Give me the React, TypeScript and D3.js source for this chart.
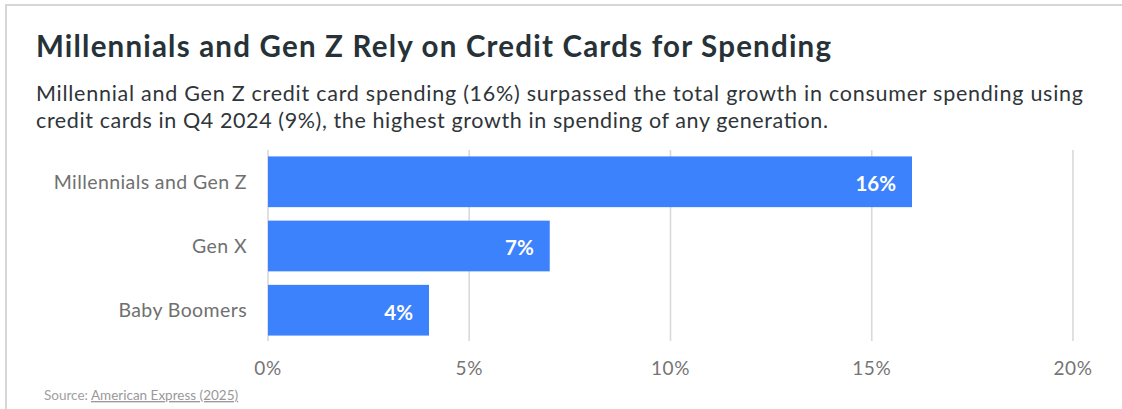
import React from "react";
import * as d3 from "d3";

const categories = ["Millennials and Gen Z", "Gen X", "Baby Boomers"];
const values = [16, 7, 4];
const ticks = [0, 5, 10, 15, 20];

const title = "Millennials and Gen Z Rely on Credit Cards for Spending";
const subtitleLines = [
  "Millennial and Gen Z credit card spending (16%) surpassed the total growth in consumer spending using",
  "credit cards in Q4 2024 (9%), the highest growth in spending of any generation.",
];
const subtitleWidths = [1047, 792];

const W = 1122;
const H = 409;
const FONT = "Lato, 'Open Sans', sans-serif";

export default function App() {
  const x = d3.scaleLinear().domain([0, 20]).range([268, 1073]);
  const y = d3
    .scaleBand<string>()
    .domain(categories)
    .range([150, 342])
    .paddingInner(0.21)
    .paddingOuter(0.1);

  return (
    <svg
      width={W}
      height={H}
      style={{ position: "absolute", left: 0, top: 0, background: "#fff" }}
      fontFamily={FONT}
    >
      <rect x={6} y={5} width={W} height={H} fill="#fff" stroke="#d6d6d6" strokeWidth={2} />
      <text
        x={36}
        y={57}
        fontSize={29.5}
        fontWeight={700}
        fill="#263238"
        textLength={795}
        lengthAdjust="spacing"
      >
        {title}
      </text>
      {subtitleLines.map((l, i) => (
        <text
          key={i}
          x={36}
          y={100.5 + i * 27.5}
          fontSize={21.5}
          fill="#2f3539"
          textLength={subtitleWidths[i]}
          lengthAdjust="spacing"
        >
          {l}
        </text>
      ))}
      {ticks.map((t) => (
        <g key={t}>
          <line x1={x(t)} x2={x(t)} y1={150} y2={341} stroke="#d9d9d9" strokeWidth={1.6} />
          <text
            x={x(t)}
            y={375}
            textAnchor="middle"
            fontSize={19}
            letterSpacing={0.6}
            fill="#757575"
          >
            {t}%
          </text>
        </g>
      ))}
      {categories.map((c, i) => (
        <g key={c}>
          <rect
            x={x(0)}
            y={y(c)}
            width={x(values[i]) - x(0)}
            height={y.bandwidth()}
            fill="#3d82fd"
          />
          <text
            x={x(values[i]) - 16}
            y={(y(c) as number) + y.bandwidth() / 2}
            dy="0.46em"
            textAnchor="end"
            fontSize={20.5}
            fontWeight={700}
            fill="#fff"
          >
            {values[i]}%
          </text>
          <text
            x={247}
            y={(y(c) as number) + y.bandwidth() / 2}
            dy="0.36em"
            textAnchor="end"
            fontSize={19.5}
            letterSpacing={0.4}
            fill="#707070"
          >
            {c}
          </text>
        </g>
      ))}
      <text x={44} y={400} fontSize={13.5} fill="#a0a0a0">
        Source:{" "}
        <tspan textDecoration="underline" fill="#999">
          American Express (2025)
        </tspan>
      </text>
    </svg>
  );
}
